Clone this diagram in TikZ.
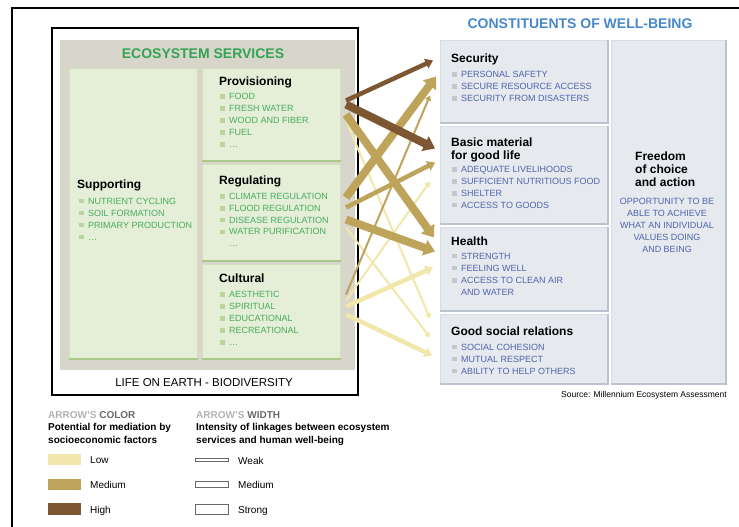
\documentclass[tikz,border=0pt]{standalone}
\usepackage{fontspec}
\setmainfont{Liberation Sans}
\usetikzlibrary{arrows.meta}

\definecolor{esgray}{RGB}{216,214,203}
\definecolor{esfill}{RGB}{229,238,214}
\definecolor{esedge}{RGB}{208,225,188}
\definecolor{esshade}{RGB}{170,201,140}
\definecolor{estitle}{RGB}{52,163,85}
\definecolor{estext}{RGB}{72,172,96}
\definecolor{esbullet}{RGB}{186,212,160}
\definecolor{wbfill}{RGB}{230,233,238}
\definecolor{wbedge}{RGB}{216,220,227}
\definecolor{wbshade}{RGB}{188,195,208}
\definecolor{wbtitle}{RGB}{70,136,202}
\definecolor{wbtext}{RGB}{80,100,172}
\definecolor{wbbullet}{RGB}{196,199,205}
\definecolor{lowc}{RGB}{242,231,170}
\definecolor{medc}{RGB}{190,163,90}
\definecolor{highc}{RGB}{125,86,50}
\definecolor{keygray}{RGB}{178,178,178}
\definecolor{keydark}{RGB}{105,105,105}

\newcommand{\gb}{\textcolor{esbullet}{\rule[0.8pt]{4.5pt}{4.5pt}}\hspace{4.5pt}}
\newcommand{\bb}{\textcolor{wbbullet}{\rule[0.8pt]{4.5pt}{4.5pt}}\hspace{4.5pt}}

\tikzset{
  ebox/.style={fill=esfill, draw=esedge, line width=1pt, anchor=north west, inner sep=0pt},
  wbox/.style={fill=wbfill, draw=wbedge, line width=1pt, anchor=north west, inner sep=0pt},
  head/.style={font=\bfseries\fontsize{12}{13}\selectfont, anchor=base west, inner sep=0pt},
  eitem/.style={text=estext, font=\fontsize{9}{12}\selectfont, anchor=base west, inner sep=0pt},
  witem/.style={text=wbtext, font=\fontsize{9}{12}\selectfont, anchor=base west, inner sep=0pt},
  keyhead/.style={font=\bfseries\fontsize{10}{12}\selectfont, anchor=base west, inner sep=0pt},
  keylabel/.style={font=\fontsize{10}{12}\selectfont, anchor=base west, inner sep=0pt},
  swatch/.style={minimum width=33pt, minimum height=11.5pt, inner sep=0pt},
  bar/.style={draw=keydark, fill=white, line width=1pt, minimum width=33pt, inner sep=0pt},
  link/.style={-{Triangle[length=3pt 1, width=3pt 1.6]}},
  weaklink/.style={link, line width=2pt},
  medlink/.style={link, line width=4.5pt},
  stronglink/.style={link, line width=8pt}
}

\begin{document}
\begin{tikzpicture}[x=1pt, y=-1pt]
\useasboundingbox (0,0) rectangle (739,527);
\draw[line width=1.4pt] (12,527) -- (12,8) -- (739,8);

% ecosystem services
\draw[line width=1.3pt, fill=white] (52,28) rectangle (358,395);
\fill[esgray] (60,40) rectangle (355,370);
\node[font=\bfseries\fontsize{14}{16}\selectfont, text=estitle, anchor=base] (es) at (203,59) {ECOSYSTEM SERVICES};
\node[font=\fontsize{11.5}{13}\selectfont, anchor=base] (life) at (204,386) {LIFE ON EARTH - BIODIVERSITY};

\node[ebox, minimum width=128pt, minimum height=290pt] (sup) at (69,68) {};
\node[ebox, minimum width=138pt, minimum height=92pt] (prov) at (202,68) {};
\node[ebox, minimum width=138pt, minimum height=96pt] (reg) at (202,164) {};
\node[ebox, minimum width=138pt, minimum height=94pt] (cult) at (202,264) {};
\foreach \b in {sup,prov,reg,cult}
  \draw[esshade, line width=1.6pt] (\b.south west) -- (\b.south east);

\node[head] (sup-h) at (77,188) {Supporting};
\foreach \t [count=\i from 0] in {NUTRIENT CYCLING, SOIL FORMATION, PRIMARY PRODUCTION, \ldots}
  \node[eitem] (sup-\i) at (79,204+12*\i) {\gb\t};
\node[head] (prov-h) at (219,85) {Provisioning};
\foreach \t [count=\i from 0] in {FOOD, FRESH WATER, WOOD AND FIBER, FUEL, \ldots}
  \node[eitem] (prov-\i) at (220,99.5+12*\i) {\gb\t};
\node[head] (reg-h) at (219,184) {Regulating};
\foreach \t [count=\i from 0] in {CLIMATE REGULATION, FLOOD REGULATION, DISEASE REGULATION, WATER PURIFICATION}
  \node[eitem] (reg-\i) at (220,199.5+11.8*\i) {\gb\t};
\node[eitem] (reg-4) at (229,246.5) {\ldots};
\node[head] (cult-h) at (219,282) {Cultural};
\foreach \t [count=\i from 0] in {AESTHETIC, SPIRITUAL, EDUCATIONAL, RECREATIONAL, \ldots}
  \node[eitem] (cult-\i) at (220,297.5+12*\i) {\gb\t};

% constituents of well-being
\node[font=\bfseries\fontsize{14}{16}\selectfont, text=wbtitle, anchor=base] (wb) at (580,29) {CONSTITUENTS OF WELL-BEING};
\node[wbox, minimum width=167pt, minimum height=82pt] (sec) at (440,40) {};
\node[wbox, minimum width=167pt, minimum height=97pt] (basic) at (440,126) {};
\node[wbox, minimum width=167pt, minimum height=83pt] (health) at (440,227) {};
\node[wbox, minimum width=167pt, minimum height=69pt] (social) at (440,314) {};
\node[wbox, minimum width=114pt, minimum height=343pt] (free) at (611,40) {};
\foreach \b in {sec,basic,health,social,free}
  \draw[wbshade, line width=1.6pt] (\b.south west) -- (\b.south east) -- (\b.north east);

\node[head] (sec-h) at (451,63) {Security};
\foreach \t [count=\i from 0] in {PERSONAL SAFETY, SECURE RESOURCE ACCESS, SECURITY FROM DISASTERS}
  \node[witem] (sec-\i) at (452,77.5+12*\i) {\bb\t};
\node[head] (basic-h) at (451,146) {Basic material};
\node[head] (basic-h2) at (451,159) {for good life};
\foreach \t [count=\i from 0] in {ADEQUATE LIVELIHOODS, SUFFICIENT NUTRITIOUS FOOD, SHELTER, ACCESS TO GOODS}
  \node[witem] (basic-\i) at (452,172.5+11.9*\i) {\bb\t};
\node[head] (health-h) at (451,245) {Health};
\foreach \t [count=\i from 0] in {STRENGTH, FEELING WELL, ACCESS TO CLEAN AIR}
  \node[witem] (health-\i) at (452,259+12.2*\i) {\bb\t};
\node[witem] (health-3) at (461,295.5) {AND WATER};
\node[head] (social-h) at (451,335.5) {Good social relations};
\foreach \t [count=\i from 0] in {SOCIAL COHESION, MUTUAL RESPECT, ABILITY TO HELP OTHERS}
  \node[witem] (social-\i) at (452,350+12*\i) {\bb\t};

\foreach \t [count=\i from 0] in {Freedom, of choice, and action}
  \node[head] (free-h\i) at (635,160+13.2*\i) {\t};
\foreach \t [count=\i from 0] in {OPPORTUNITY TO BE, ABLE TO ACHIEVE, WHAT AN INDIVIDUAL, VALUES DOING, AND BEING}
  \node[witem, anchor=base] (free-\i) at (667,204.5+11.9*\i) {\t};

\node[font=\fontsize{8.5}{10}\selectfont, anchor=base east, inner sep=0pt] (src) at (727,397) {Source: Millennium Ecosystem Assessment};

% links, pale ones underneath
\draw[weaklink, lowc] ([xshift=5pt, yshift=-6pt]prov.east) -- ([xshift=-10pt, yshift=30.5pt]social.west);
\draw[weaklink, lowc] ([xshift=5pt, yshift=-15pt]reg.east) -- ([xshift=-10pt, yshift=11.5pt]social.west);
\draw[weaklink, lowc] ([xshift=5pt, yshift=11pt]cult.east) -- ([xshift=-10pt, yshift=-6.5pt]basic.west);
\draw[medlink, lowc] ([xshift=5pt, yshift=5pt]cult.east) -- ([xshift=-7pt, yshift=1.5pt]health.west);
\draw[medlink, lowc] ([xshift=5pt, yshift=-3pt]cult.east) -- ([xshift=-8pt, yshift=-6.5pt]social.west);
\draw[weaklink, medc] ([xshift=5pt, yshift=17pt]cult.east) -- ([xshift=-10pt, yshift=-14pt]sec.west);
\draw[medlink, medc] ([xshift=5pt, yshift=5pt]reg.east) -- ([xshift=-5pt, yshift=12.5pt]basic.west);
\draw[stronglink, medc] ([xshift=5pt, yshift=15pt]reg.east) -- ([xshift=-4pt, yshift=5pt]sec.west);
\draw[stronglink, medc] ([xshift=5pt, yshift=-7pt]reg.east) -- ([xshift=-5pt, yshift=17.5pt]health.west);
\draw[stronglink, medc] ([xshift=5pt, yshift=0pt]prov.east) -- ([xshift=-6pt, yshift=31.5pt]health.west);
\draw[medlink, highc] ([xshift=5pt, yshift=14pt]prov.east) -- ([xshift=-7pt, yshift=21pt]sec.west);
\draw[stronglink, highc] ([xshift=5pt, yshift=10pt]prov.east) -- ([xshift=-5pt, yshift=26.5pt]basic.west);

% key
\node[keyhead] (colkey) at (48,418) {\textcolor{keygray}{ARROW'S} \textcolor{keydark}{COLOR}};
\node[keyhead] (colkey-1) at (48,430.5) {Potential for mediation by};
\node[keyhead] (colkey-2) at (48,443) {socioeconomic factors};
\foreach \col/\t/\y in {lowc/Low/459.5, medc/Medium/484.5, highc/High/509}
{
  \node[swatch, fill=\col] (sw-\t) at (64,\y) {};
  \node[keylabel] (sw-\t-l) at (90,\y+4) {\t};
}
\node[keyhead] (widkey) at (196,418) {\textcolor{keygray}{ARROW'S} \textcolor{keydark}{WIDTH}};
\node[keyhead] (widkey-1) at (196,430.5) {Intensity of linkages between ecosystem};
\node[keyhead] (widkey-2) at (196,443) {services and human well-being};
\foreach \t/\h/\y in {Weak/3/460, Medium/5.5/484.5, Strong/10/509.5}
{
  \node[bar, minimum height=\h pt] (bar-\t) at (212,\y) {};
  \node[keylabel] (bar-\t-l) at (238,\y+4) {\t};
}
\end{tikzpicture}
\end{document}
